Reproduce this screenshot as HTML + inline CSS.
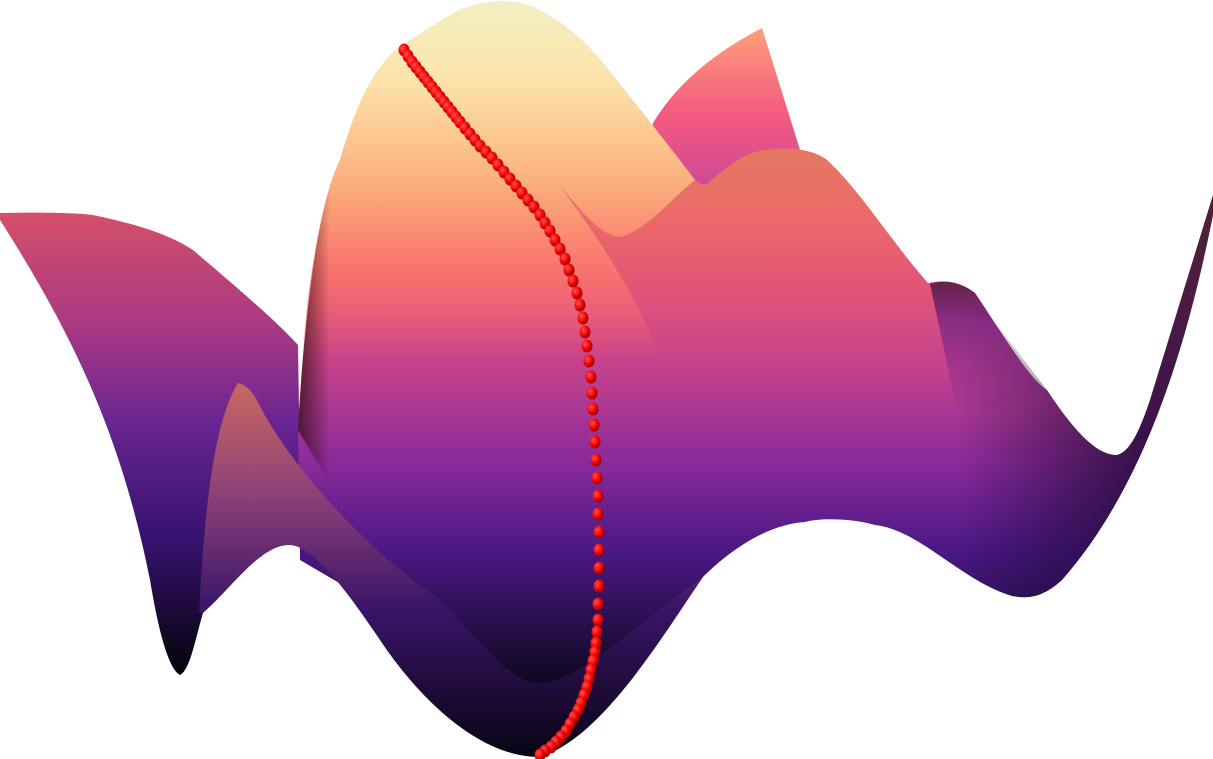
<!DOCTYPE html>
<html><head><meta charset="utf-8"><style>html,body{margin:0;padding:0;background:#fff}svg{display:block}</style></head>
<body>
<svg id="chart" width="1213" height="759" viewBox="0 0 1213 759" xmlns="http://www.w3.org/2000/svg">
<defs>
<linearGradient id="gS" x1="0" y1="140" x2="0" y2="680" gradientUnits="userSpaceOnUse">
<stop offset="0" stop-color="#e47a62"/><stop offset="0.14" stop-color="#ec6a68"/><stop offset="0.28" stop-color="#e25478"/><stop offset="0.42" stop-color="#c4428c"/><stop offset="0.6" stop-color="#8a2a9a"/><stop offset="0.76" stop-color="#4a1885"/><stop offset="1" stop-color="#100820"/></linearGradient>
<linearGradient id="gFlap" x1="0" y1="28" x2="0" y2="200" gradientUnits="userSpaceOnUse">
<stop offset="0" stop-color="#fca07a"/><stop offset="0.5" stop-color="#f45a80"/><stop offset="1" stop-color="#c8449a"/></linearGradient>
<linearGradient id="gH" x1="0" y1="0" x2="0" y2="360" gradientUnits="userSpaceOnUse">
<stop offset="0" stop-color="#f3efc4"/><stop offset="0.22" stop-color="#fbe4aa"/><stop offset="0.5" stop-color="#fbb27e"/><stop offset="0.75" stop-color="#fe7a6e" stop-opacity="0.8"/><stop offset="1" stop-color="#fe6870" stop-opacity="0"/></linearGradient>
<linearGradient id="gC" x1="0" y1="213" x2="0" y2="675" gradientUnits="userSpaceOnUse">
<stop offset="0" stop-color="#d4506a"/><stop offset="0.25" stop-color="#a83882"/><stop offset="0.45" stop-color="#6a2592"/><stop offset="0.7" stop-color="#381270"/><stop offset="1" stop-color="#05030a"/></linearGradient>
<linearGradient id="gE" x1="0" y1="383" x2="0" y2="757" gradientUnits="userSpaceOnUse">
<stop offset="0" stop-color="#c86862"/><stop offset="0.3" stop-color="#8e4078"/><stop offset="0.6" stop-color="#3a1568"/><stop offset="1" stop-color="#080414"/></linearGradient>
<linearGradient id="gShade" x1="296" y1="0" x2="330" y2="0" gradientUnits="userSpaceOnUse">
<stop offset="0" stop-color="#2a0c0c" stop-opacity="0.75"/><stop offset="1" stop-color="#2a0c0c" stop-opacity="0"/></linearGradient>
<linearGradient id="gR" x1="960" y1="0" x2="1140" y2="0" gradientUnits="userSpaceOnUse">
<stop offset="0" stop-color="#1a0830" stop-opacity="0"/><stop offset="1" stop-color="#1a0830" stop-opacity="0.75"/></linearGradient>
<linearGradient id="gI" x1="0" y1="280" x2="0" y2="420" gradientUnits="userSpaceOnUse">
<stop offset="0" stop-color="#2a0a30"/><stop offset="0.3" stop-color="#6a2088"/><stop offset="1" stop-color="#6a2088" stop-opacity="0"/></linearGradient>
<radialGradient id="gDot" cx="0.35" cy="0.35" r="0.7"><stop offset="0" stop-color="#ff5050"/><stop offset="0.6" stop-color="#f00000"/><stop offset="1" stop-color="#900000"/></radialGradient>
</defs>
<path fill="url(#gFlap)" d="M653,123 C670,95 700,60 762,28 L800,150 L760,200 L640,210 Z"/>
<path fill="url(#gC)" d="M0,213 C40,212 80,213 93,215 C140,225 170,235 193,250 C240,290 275,320 298,345 L300,470 L230,540 L203,613 C195,640 190,670 180,675 C170,670 160,640 150,580 C120,430 70,330 0,220 Z"/>
<path fill="url(#gS)" d="M298,430 C305,300 320,200 340,160 C355,110 370,70 402,45 C420,35 440,20 460,10 C485,0 510,-2 535,8 C580,30 600,60 619,83 C640,110 665,140 690,175 C700,185 705,188 711,180 C730,165 745,152 765,150 C790,146 815,150 827,160 C860,190 890,240 928,283 C950,278 965,285 975,293 C1000,330 1030,380 1047,390 C1080,440 1100,455 1117,455 C1130,452 1140,430 1150,400 L1213,195 L1213,215 C1190,330 1150,480 1062,580 C1040,600 1025,598 1012,596 C960,580 920,530 875,525 C850,518 820,518 805,522 C760,525 720,560 703,577 L625,653 L539,700 L300,560 Z"/>
<path fill="url(#gR)" d="M940,282 C975,290 1000,330 1047,390 C1080,440 1100,455 1117,455 C1130,452 1140,430 1150,400 L1213,195 L1213,215 C1190,330 1150,480 1062,580 C1040,600 1025,598 1012,596 C980,580 960,560 940,545 Z"/>
<path fill="url(#gI)" opacity="0.7" d="M930,284 C948,278 965,285 975,293 C1000,330 1030,380 1047,392 C1020,400 990,410 960,420 C950,380 940,330 930,284 Z"/>
<path fill="url(#gH)" d="M300,380 C305,300 320,200 340,160 C355,110 370,70 402,45 C420,35 440,20 460,10 C485,0 510,-2 535,8 C580,30 600,60 619,83 C640,110 665,140 695,180 C670,200 645,232 619,237 C600,235 580,210 557,182 C600,240 640,300 660,360 L300,360 Z"/>
<path fill="url(#gShade)" d="M298,430 C305,300 320,200 340,160 C355,110 370,70 402,45 L340,500 Z"/>
<path fill="url(#gE)" d="M199,613 C205,500 215,420 238,383 C248,385 255,395 262,410 C300,480 380,560 437,597 C480,640 510,683 539,683 C580,683 640,620 703,577 C660,640 600,740 539,757 C480,757 420,700 380,640 C340,580 310,545 289,545 C260,545 230,590 203,613 Z"/>
<g id="dots"></g>
</svg>
<script>
const dotX=[404,408,412,416,420,424,428,432,436,440,444,448,452,456,460,465,470,475,480,486,492,498,504,510,516,522,528,534,540,545,550,555,560,565,569,573,577,580,583,585,587,589,591,592,593,594,595,596,597,598,598,599,599,599,599,598,598,597,596,595,593,591,589,587,584,581,578,574,570,566,561,556,551,545,540];
const dotY=[50,56,62,67,72,77,82,87,92,97,102,107,112,117,122,128,134,140,146,152,158,165,172,179,186,193,200,207,215,223,231,240,249,259,270,281,293,305,318,332,346,361,377,393,409,425,442,460,478,496,514,532,550,568,586,604,620,632,643,652,661,670,679,687,695,703,710,717,724,731,737,742,747,751,755];
const g=document.getElementById('dots');
for(let i=0;i<dotX.length;i++){
  const c=document.createElementNS('http://www.w3.org/2000/svg','ellipse');
  c.setAttribute('cx',dotX[i]);c.setAttribute('cy',dotY[i]);
  c.setAttribute('rx',5.5);c.setAttribute('ry',6.5);
  c.setAttribute('fill','url(#gDot)');
  
  
  g.appendChild(c);
}
</script>
</body></html>
